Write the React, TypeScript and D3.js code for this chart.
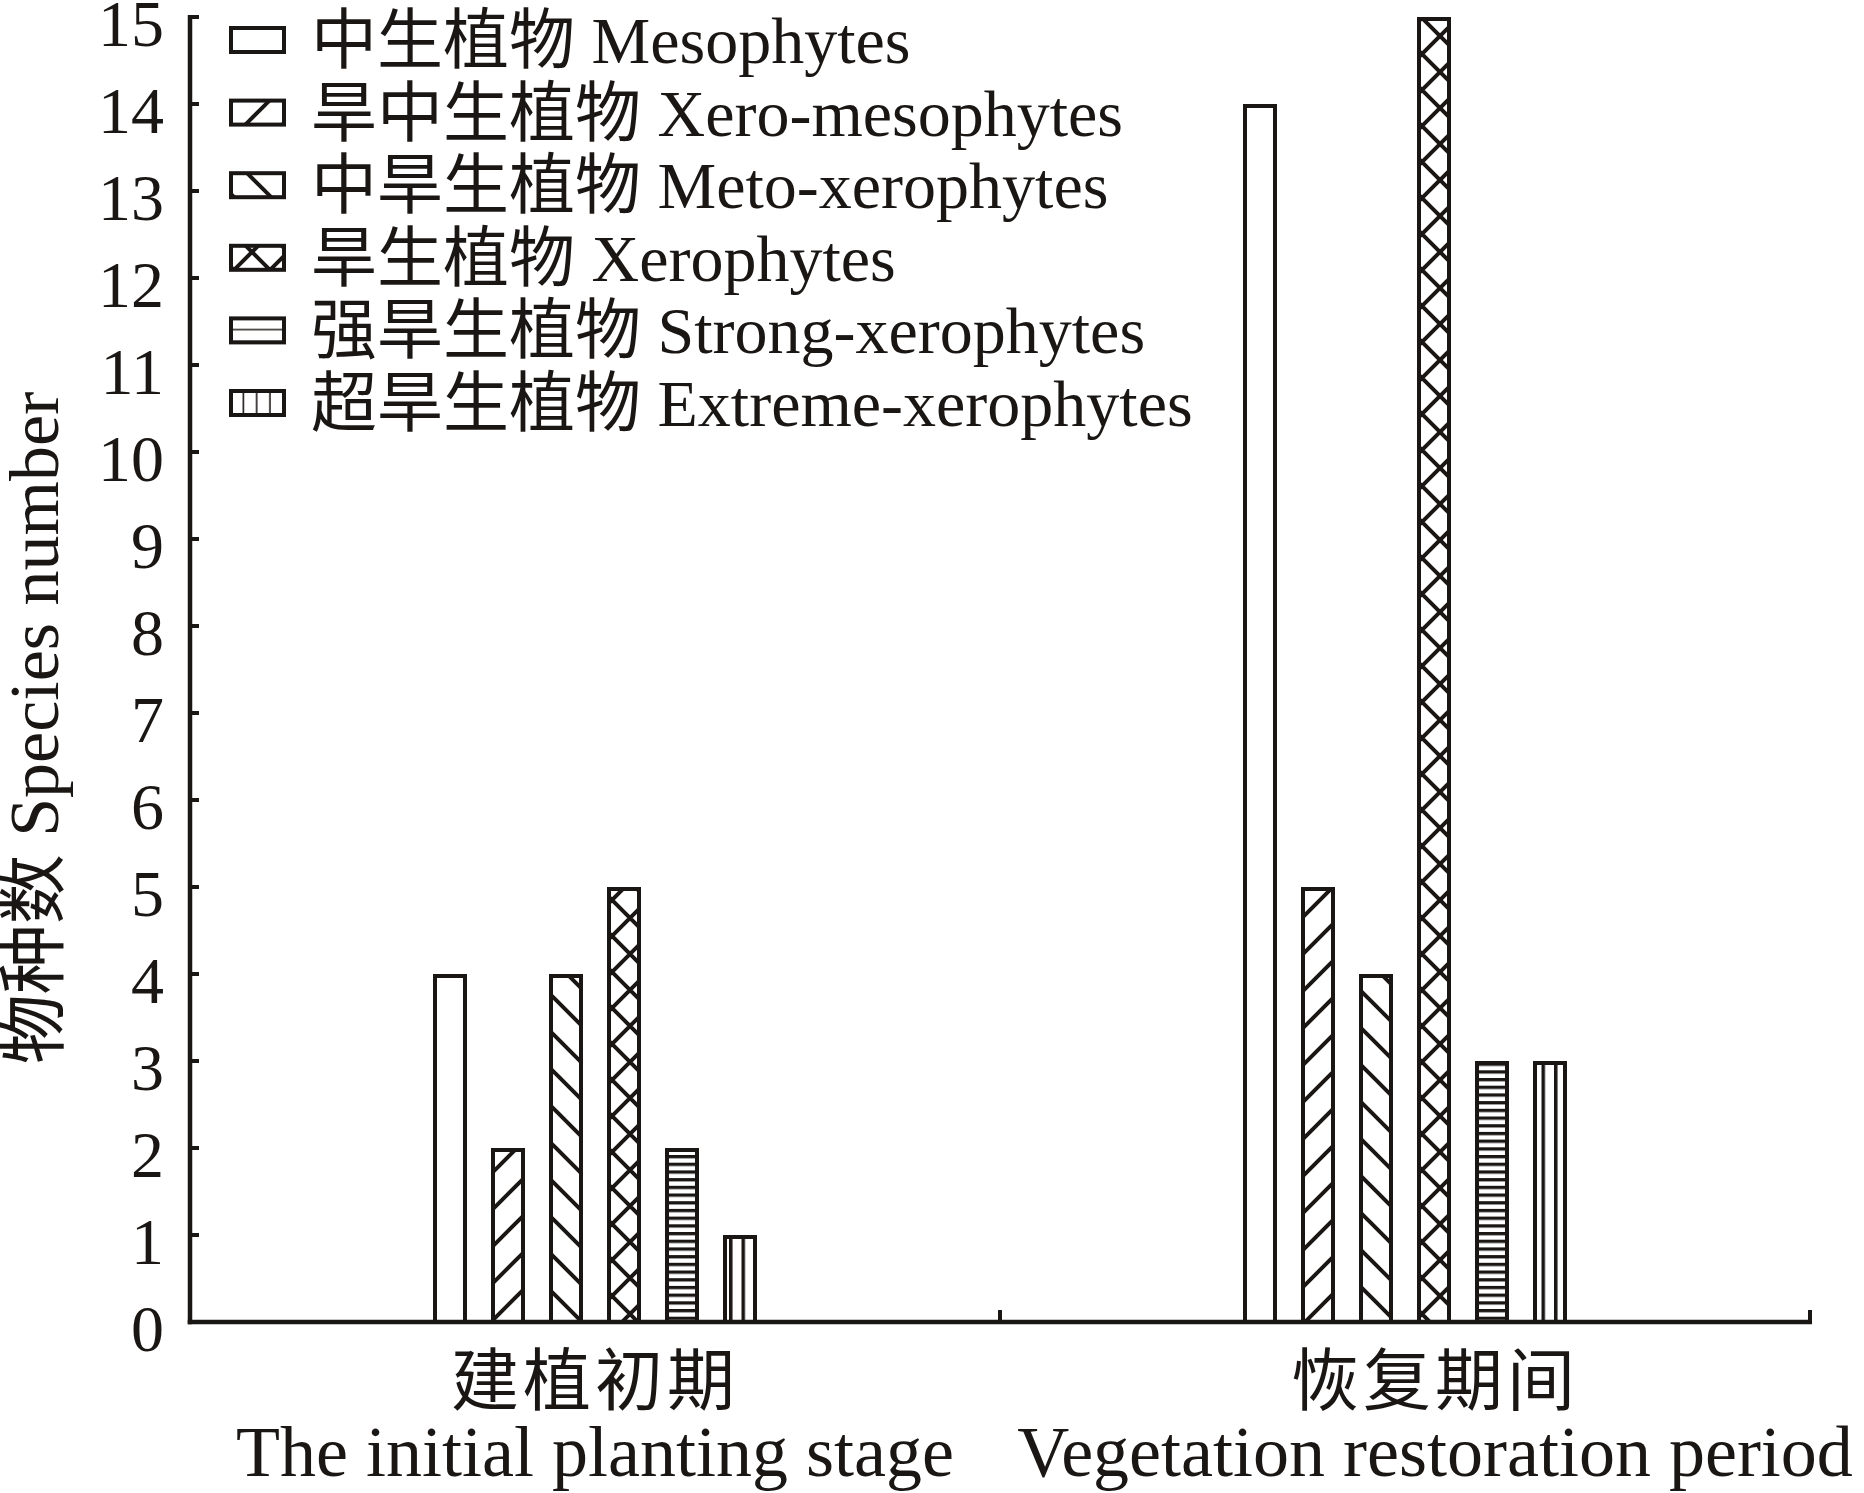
import { useRef, useEffect } from "react";
import * as d3 from "d3";

const categories = ["建植初期", "恢复期间"];
const categoriesEn = ["The initial planting stage", "Vegetation restoration period"];

const seriesCn = ["中生植物", "旱中生植物", "中旱生植物", "旱生植物", "强旱生植物", "超旱生植物"];
const seriesEn = ["Mesophytes", "Xero-mesophytes", "Meto-xerophytes", "Xerophytes", "Strong-xerophytes", "Extreme-xerophytes"];
const seriesFill = ["none", "diagUp", "diagDown", "cross", "horiz", "vert"];

// species counts per stage, same order as the series
const initialStage = [4, 2, 4, 5, 2, 1];
const restorationStage = [14, 5, 4, 15, 3, 3];

const yTicks = d3.range(0, 16);

const INK = "#1a1614";
const FONT = "'Liberation Serif', 'Times New Roman', 'Noto Sans CJK SC', serif";

export default function App() {
  const svgRef = useRef<SVGSVGElement>(null);

  useEffect(() => {
    if (!svgRef.current) return;
    const svg = d3.select(svgRef.current);
    svg.selectAll("*").remove();

    const width = 1864;
    const height = 1493;
    const margin = { top: 17, right: 54, bottom: 171, left: 190 };
    svg.attr("width", width).attr("height", height);

    const x = d3.scaleBand<string>()
      .domain(categories)
      .range([margin.left, width - margin.right]);

    const inner = d3.scaleBand<string>()
      .domain(seriesEn)
      .range([0, 324])
      .paddingInner(0.414);

    const y = d3.scaleLinear()
      .domain([0, 15])
      .range([height - margin.bottom, margin.top]);

    // hatch patterns
    const defs = svg.append("defs");
    const sw = 4;
    const dg = 37;
    const addLinePattern = (id: string, w: number, h: number, d: string, units = "userSpaceOnUse") => {
      const p = defs.append("pattern")
        .attr("id", id)
        .attr("patternUnits", units)
        .attr("width", w)
        .attr("height", h);
      p.append("rect").attr("width", "100%").attr("height", "100%").attr("fill", "#fff");
      p.append("path").attr("d", d).attr("stroke", INK).attr("stroke-width", sw).attr("fill", "none");
      return p;
    };
    addLinePattern("diagUp", dg, dg, `M0,${dg} L${dg},0 M-6,6 L6,-6 M${dg - 6},${dg + 6} L${dg + 6},${dg - 6}`);
    addLinePattern("diagDown", dg, dg, `M0,0 L${dg},${dg} M-6,${dg - 6} L6,${dg + 6} M${dg - 6},-6 L${dg + 6},6`);
    const cs = 36;
    addLinePattern("cross", cs, cs,
      `M0,${cs} L${cs},0 M-6,6 L6,-6 M${cs - 6},${cs + 6} L${cs + 6},${cs - 6} M0,0 L${cs},${cs} M-6,${cs - 6} L6,${cs + 6} M${cs - 6},-6 L${cs + 6},6`);

    const hp = defs.append("pattern").attr("id", "horiz").attr("patternUnits", "userSpaceOnUse")
      .attr("width", 10).attr("height", 7.7);
    hp.append("rect").attr("width", 10).attr("height", 7.7).attr("fill", "#fff");
    hp.append("rect").attr("y", 0).attr("width", 10).attr("height", 3.3).attr("fill", INK);

    const vp = defs.append("pattern").attr("id", "vert").attr("patternUnits", "userSpaceOnUse")
      .attr("x", 4).attr("width", 12.5).attr("height", 10);
    vp.append("rect").attr("width", 12.5).attr("height", 10).attr("fill", "#fff");
    vp.append("rect").attr("x", 0).attr("width", 3.5).attr("height", 10).attr("fill", INK);

    // legend-only versions of the straight hatches (sized to the box)
    const lh = defs.append("pattern").attr("id", "leg-horiz").attr("patternUnits", "objectBoundingBox")
      .attr("patternContentUnits", "objectBoundingBox").attr("width", 1).attr("height", 0.5);
    lh.append("rect").attr("width", 1).attr("height", 0.5).attr("fill", "#fff");
    lh.append("rect").attr("y", 0.44).attr("width", 1).attr("height", 0.12).attr("fill", INK);
    const lv = defs.append("pattern").attr("id", "leg-vert").attr("patternUnits", "objectBoundingBox")
      .attr("patternContentUnits", "objectBoundingBox").attr("width", 0.25).attr("height", 1);
    lv.append("rect").attr("width", 0.25).attr("height", 1).attr("fill", "#fff");
    lv.append("rect").attr("x", 0.22).attr("width", 0.06).attr("height", 1).attr("fill", INK);

    const fillFor = (k: string, legend = false) => {
      if (k === "none") return "#fff";
      if (legend && (k === "horiz" || k === "vert")) return `url(#leg-${k})`;
      return `url(#${k})`;
    };

    // bars
    const stages = [initialStage, restorationStage];
    const bw = inner.bandwidth();
    stages.forEach((vals, ci) => {
      const cx = (x(categories[ci]) ?? 0) + x.bandwidth() / 2 - 162;
      vals.forEach((v, si) => {
        const bx = cx + (inner(seriesEn[si]) ?? 0);
        svg.append("rect")
          .attr("x", bx + sw / 2)
          .attr("y", y(v) + sw / 2)
          .attr("width", bw - sw)
          .attr("height", y(0) - y(v) - sw / 2)
          .attr("fill", fillFor(seriesFill[si]))
          .attr("stroke", INK)
          .attr("stroke-width", sw);
      });
    });

    // axes
    const axisW = 4.5;
    svg.append("line")
      .attr("x1", margin.left).attr("x2", margin.left)
      .attr("y1", y(15) - 2).attr("y2", y(0) + axisW / 2)
      .attr("stroke", INK).attr("stroke-width", axisW);
    svg.append("line")
      .attr("x1", margin.left - axisW / 2).attr("x2", width - margin.right + 2)
      .attr("y1", y(0)).attr("y2", y(0))
      .attr("stroke", INK).attr("stroke-width", axisW);

    yTicks.forEach((t) => {
      if (t > 0) {
        svg.append("line")
          .attr("x1", margin.left).attr("x2", margin.left + 9)
          .attr("y1", y(t)).attr("y2", y(t))
          .attr("stroke", INK).attr("stroke-width", 4);
      }
      svg.append("text")
        .attr("x", margin.left - 26)
        .attr("y", y(t) + 29)
        .attr("text-anchor", "end")
        .attr("font-family", FONT)
        .attr("font-size", 66)
        .attr("fill", INK)
        .text(t);
    });

    // x ticks at category boundaries
    categories.forEach((c) => {
      const bx = (x(c) ?? 0) + x.bandwidth();
      svg.append("line")
        .attr("x1", bx).attr("x2", bx)
        .attr("y1", y(0)).attr("y2", y(0) - 12)
        .attr("stroke", INK).attr("stroke-width", 4);
    });

    // category labels
    const labelShift = [0, 30];
    categories.forEach((c, i) => {
      const cx = (x(c) ?? 0) + x.bandwidth() / 2 + labelShift[i];
      svg.append("text")
        .attr("x", cx).attr("y", 1405)
        .attr("text-anchor", "middle")
        .attr("font-family", FONT)
        .attr("font-size", 68)
        .attr("letter-spacing", 4)
        .attr("fill", INK)
        .text(c);
      svg.append("text")
        .attr("x", cx).attr("y", 1476)
        .attr("text-anchor", "middle")
        .attr("font-family", FONT)
        .attr("font-size", 72)
        .attr("fill", INK)
        .text(categoriesEn[i]);
    });

    // y title
    svg.append("text")
      .attr("transform", `translate(58,728) rotate(-90)`)
      .attr("text-anchor", "middle")
      .attr("font-family", FONT)
      .attr("font-size", 70)
      .attr("fill", INK)
      .text("物种数 Species number");

    // legend
    const legendY = d3.scaleLinear().domain([0, 5]).range([40, 403]);
    seriesEn.forEach((s, i) => {
      const cy = legendY(i);
      svg.append("rect")
        .attr("x", 231).attr("y", cy - 12)
        .attr("width", 53).attr("height", 24)
        .attr("fill", fillFor(seriesFill[i], true))
        .attr("stroke", INK).attr("stroke-width", sw);
      svg.append("text")
        .attr("x", 311).attr("y", cy + 23)
        .attr("font-family", FONT)
        .attr("font-size", 66)
        .attr("fill", INK)
        .text(`${seriesCn[i]} ${s}`);
    });
  }, []);

  return (
    <div style={{ position: "absolute", left: 0, top: 0, background: "#fff" }}>
      <svg ref={svgRef} style={{ display: "block" }} />
    </div>
  );
}
